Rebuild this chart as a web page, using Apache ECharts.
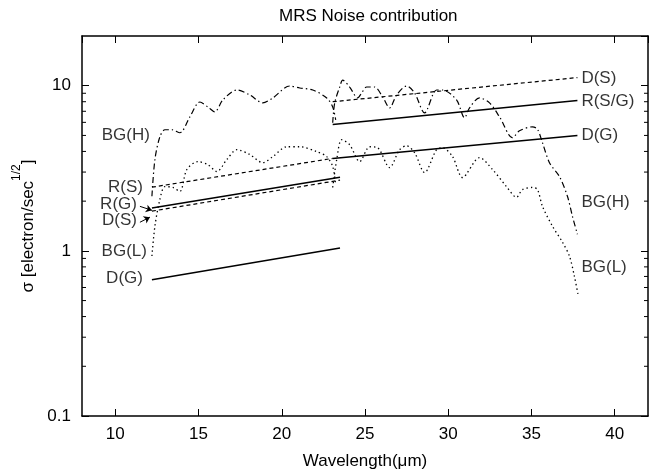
<!DOCTYPE html>
<html>
<head>
<meta charset="utf-8">
<script src="https://cdn.jsdelivr.net/npm/echarts@6/dist/echarts.min.js"></script>
<style>
  html, body { margin: 0; padding: 0; background: #fff; }
  #chart { width: 660px; height: 475px; }
</style>
</head>
<body>
<div id="chart"></div>
<script>
// axes
var xMin = 8, xMax = 42;
var yMin = 0.1, yMax = 20;
var minorTicks = [0.2, 0.3, 0.4, 0.5, 0.6, 0.7, 0.8, 0.9, 2, 3, 4, 5, 6, 7, 8, 9];

// BG(H), first and second band
var bgHx1 = [12.2, 12.38, 12.68, 12.98, 13.4, 13.88, 14.48, 15.08, 15.56, 15.98, 16.46, 17.3, 18.08, 18.86, 19.46, 20.48, 21.08, 21.86, 22.7, 23.06, 23.24];
var bgHy1 = [2.14, 3.57, 4.91, 5.41, 5.41, 5.19, 6.48, 7.97, 7.44, 6.94, 8.20, 9.42, 8.79, 7.87, 8.43, 9.96, 9.69, 9.42, 8.43, 7.44, 6.21];
var bgHx2 = [23.06, 23.18, 23.48, 23.66, 24.08, 24.56, 24.8, 25.1, 25.58, 26.06, 26.48, 26.9, 27.5, 27.98, 28.58, 29.3, 29.66, 30.5, 30.98, 31.28, 31.88, 32.48, 33.08, 33.86, 34.28, 35.06, 35.36, 35.66, 36.08, 36.68, 37.16, 37.46, 37.76];
var bgHy2 = [5.96, 7.87, 9.82, 10.8, 9.82, 8.43, 9.03, 9.82, 9.82, 8.55, 7.34, 8.79, 9.96, 9.03, 6.85, 9.42, 9.42, 8.20, 6.39, 7.34, 8.43, 7.87, 6.48, 4.84, 5.33, 5.64, 5.45, 4.52, 3.42, 2.82, 2.14, 1.62, 1.26];

// BG(L), first and second band
var bgLx1 = [12.2, 12.38, 12.68, 12.98, 13.46, 13.88, 14.3, 14.96, 15.56, 16.1, 16.7, 17.3, 18.08, 18.86, 19.46, 20.3, 21.08, 22.1, 22.7, 23.06, 23.24];
var bgLy1 = [0.93, 1.41, 2.05, 2.45, 2.42, 2.29, 3.11, 3.47, 3.33, 3.02, 3.57, 4.10, 3.83, 3.42, 3.72, 4.27, 4.27, 3.99, 3.72, 3.24, 2.52];
var bgLx2 = [23.06, 23.3, 23.6, 24.08, 24.68, 25.28, 25.76, 26.48, 27.08, 27.5, 27.98, 28.58, 29.3, 29.66, 30.26, 30.86, 31.88, 32.66, 33.5, 34.1, 34.46, 35.06, 35.36, 35.66, 36.26, 36.86, 37.28, 37.58, 37.82];
var bgLy2 = [2.42, 3.57, 4.71, 4.39, 3.47, 4.27, 4.21, 3.19, 4.10, 4.33, 3.93, 2.98, 4.10, 4.21, 3.72, 2.78, 3.67, 3.11, 2.45, 2.11, 2.35, 2.42, 2.35, 1.86, 1.41, 1.13, 0.93, 0.70, 0.53];

// straight noise terms (start, end)
var rS1x = [12.2, 23.06],  rS1y = [2.43, 3.63];
var rG1x = [12.2, 23.5],   rG1y = [1.82, 2.79];
var dS1x = [12.2, 23.5],   dS1y = [1.74, 2.68];
var dG1x = [12.2, 23.5],   dG1y = [0.668, 1.04];
var dS2x = [23.06, 37.76], dS2y = [8.0, 11.2];
var rSG2x = [23.06, 37.76], rSG2y = [5.82, 8.15];
var dG2x = [23.06, 37.76], dG2y = [3.63, 5.0];

// curve labels
var leftNames = ['BG(H)', 'R(S)', 'R(G)', 'D(S)', 'BG(L)', 'D(G)'];
var leftX = [12.08, 11.66, 11.3, 11.3, 11.9, 11.66];
var leftY = [4.98, 2.42, 1.91, 1.53, 1.0, 0.685];
var rightNames = ['D(S)', 'R(S/G)', 'D(G)', 'BG(H)', 'BG(L)'];
var rightX = [38.0, 38.0, 38.0, 38.0, 38.0];
var rightY = [11.1, 8.08, 4.98, 1.97, 0.80];
// arrows for R(G) and D(S)
var arrowFrom = [[11.48, 1.86], [11.48, 1.49]];
var arrowTo = [[12.2, 1.76], [12.08, 1.60]];

var FONT = "'Liberation Sans', Arial, sans-serif";
var DASH = [4, 3], DOT = [1.4, 3], DASHDOT = [6, 3, 1.4, 3];

function pairs(xs, ys) {
  return xs.map(function (x, i) { return [x, ys[i]]; });
}
function lineSeries(xs, ys, type, width, smooth) {
  return {
    type: 'line', data: pairs(xs, ys), showSymbol: false, silent: true,
    smooth: smooth || false,
    lineStyle: { color: '#000', width: width, type: type }
  };
}
function labelSeries(names, xs, ys, pos) {
  return {
    type: 'scatter', symbolSize: 0, silent: true,
    data: names.map(function (n, i) { return { name: n, value: [xs[i], ys[i]] }; }),
    label: { show: true, position: pos, distance: 0, formatter: '{b}', color: '#000', fontSize: 17, fontFamily: FONT }
  };
}

var chart = echarts.init(document.getElementById('chart'));

var series = [
  lineSeries(bgHx1, bgHy1, DASHDOT, 1.2, 0.3),
  lineSeries(bgHx2, bgHy2, DASHDOT, 1.2, 0.3),
  lineSeries(bgLx1, bgLy1, DOT, 1.3, 0.3),
  lineSeries(bgLx2, bgLy2, DOT, 1.3, 0.3),
  lineSeries(rS1x, rS1y, DASH, 1.2),
  lineSeries(rG1x, rG1y, 'solid', 1.5),
  lineSeries(dS1x, dS1y, DASH, 1.2),
  lineSeries(dG1x, dG1y, 'solid', 1.5),
  lineSeries(dS2x, dS2y, DASH, 1.2),
  lineSeries(rSG2x, rSG2y, 'solid', 1.5),
  lineSeries(dG2x, dG2y, 'solid', 1.5),
  labelSeries(leftNames, leftX, leftY, 'left'),
  labelSeries(rightNames, rightX, rightY, 'right'),
  {
    // arrows pointing at R(G) and D(S)
    type: 'line', data: [], silent: true,
    markLine: {
      silent: true, symbol: ['none', 'arrow'], symbolSize: 6,
      label: { show: false },
      lineStyle: { color: '#000', width: 1, type: 'solid' },
      data: arrowFrom.map(function (p, i) { return [{ coord: p }, { coord: arrowTo[i] }]; })
    }
  },
  {
    // minor ticks of the log axis, both sides
    type: 'custom', silent: true,
    data: minorTicks.map(function (v) { return [xMin, v]; }),
    renderItem: function (params, api) {
      var v = api.value(1);
      var a = api.coord([xMin, v]);
      var b = api.coord([xMax, v]);
      var st = { stroke: '#000', lineWidth: 1 };
      return {
        type: 'group',
        children: [
          { type: 'line', shape: { x1: a[0], y1: a[1], x2: a[0] + 4, y2: a[1] }, style: st },
          { type: 'line', shape: { x1: b[0] - 4, y1: b[1], x2: b[0], y2: b[1] }, style: st }
        ]
      };
    },
    clip: false
  }
];

var axisLine = { show: true, lineStyle: { color: '#000', width: 1.5 } };
var tick = { show: true, inside: true, length: 7, lineStyle: { color: '#000', width: 1 } };

var option = {
  animation: false,
  backgroundColor: '#fff',
  title: {
    text: 'MRS Noise contribution',
    left: 274, top: 3,
    textStyle: { fontSize: 17, fontWeight: 'normal', color: '#000', fontFamily: FONT }
  },
  grid: { left: 82, top: 36, right: 12, bottom: 58 },
  xAxis: [{
    type: 'value', min: xMin, max: xMax, position: 'bottom',
    name: 'Wavelength(μm)', nameLocation: 'middle', nameGap: 37,
    nameTextStyle: { fontSize: 17, color: '#000', fontFamily: FONT },
    axisLine: axisLine, axisTick: tick, splitLine: { show: false },
    axisLabel: {
      color: '#000', fontSize: 17, fontFamily: FONT, margin: 10,
      showMinLabel: false, showMaxLabel: false,
      formatter: function (v) { return v % 5 === 0 ? String(v) : ''; }
    }
  }, {
    type: 'value', min: xMin, max: xMax, position: 'top',
    axisLine: axisLine, axisTick: tick, splitLine: { show: false },
    axisLabel: { show: false }
  }],
  yAxis: [{
    type: 'log', logBase: 10, min: yMin, max: yMax, position: 'left',
    name: '{a|σ [electron/sec}{s|1/2}{a|]}', nameLocation: 'middle', nameGap: 44,
    nameTextStyle: {
      color: '#000', fontFamily: FONT,
      rich: {
        a: { fontSize: 17, lineHeight: 26, verticalAlign: 'bottom', color: '#000', fontFamily: FONT },
        s: { fontSize: 12, lineHeight: 14, verticalAlign: 'top', color: '#000', fontFamily: FONT }
      }
    },
    axisLine: axisLine, axisTick: tick, splitLine: { show: false },
    axisLabel: { color: '#000', fontSize: 17, fontFamily: FONT, margin: 11, showMaxLabel: false }
  }, {
    type: 'log', logBase: 10, min: yMin, max: yMax, position: 'right',
    axisLine: axisLine, axisTick: tick, splitLine: { show: false },
    axisLabel: { show: false }
  }],
  series: series
};

chart.setOption(option);
</script>
</body>
</html>
